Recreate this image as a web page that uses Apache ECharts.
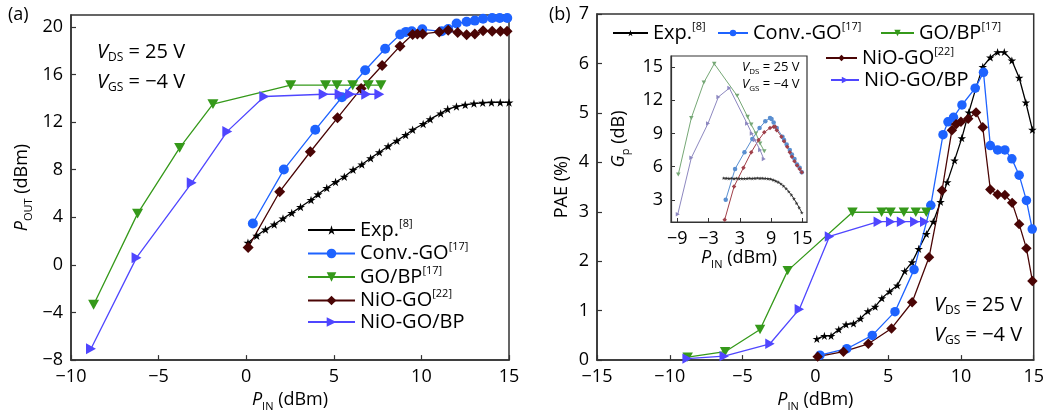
<!DOCTYPE html>
<html>
<head>
<meta charset="utf-8">
<script src="https://cdn.jsdelivr.net/npm/echarts@6/dist/echarts.min.js"></script>
<style>
  html, body { margin: 0; padding: 0; background: #fff; }
  #chart { width: 1047px; height: 417px; }
</style>
</head>
<body>
<div id="chart"></div>
<script>
// (a) Pout vs Pin
const expPinA = [0.1, 0.6, 1.1, 1.6, 2.1, 2.6, 3.1, 3.7, 4.1, 4.6, 5.1, 5.6, 6.1, 6.6, 7.1, 7.6, 8.1, 8.6, 9.1, 9.5, 10.1, 10.5, 11.1, 11.5, 12.0, 12.5, 13.0, 13.5, 14.0, 14.5, 15.0];
const expPoutA = [1.86, 2.45, 2.98, 3.4, 3.9, 4.37, 4.87, 5.46, 5.93, 6.46, 6.96, 7.41, 7.99, 8.44, 8.97, 9.47, 9.97, 10.44, 10.92, 11.36, 11.84, 12.25, 12.73, 13.09, 13.31, 13.45, 13.56, 13.62, 13.65, 13.65, 13.65];
const convPinA = [0.38, 2.15, 3.94, 5.46, 6.79, 7.93, 8.79, 9.12, 9.45, 10.05, 11.16, 11.53, 12.01, 12.58, 13.05, 13.52, 14.04, 14.47, 14.9];
const convPoutA = [3.48, 8.01, 11.35, 14.09, 16.36, 18.16, 19.36, 19.58, 19.63, 19.8, 19.63, 19.83, 20.28, 20.44, 20.53, 20.69, 20.75, 20.75, 20.75];
const goPinA = [-8.71, -6.2, -3.8, -1.9, 2.54, 4.53, 5.18, 6.08, 6.97, 7.69];
const goPoutA = [-3.35, 4.31, 9.83, 13.51, 15.1, 15.1, 15.1, 15.1, 15.1, 15.1];
const nioPinA = [0.11, 1.91, 3.66, 5.21, 6.56, 7.76, 8.78, 9.5, 9.77, 10.07, 11.02, 11.53, 12.07, 12.58, 13.05, 13.52, 14.04, 14.51, 14.89];
const nioPoutA = [1.47, 6.15, 9.51, 12.36, 14.82, 16.76, 18.38, 19.36, 19.41, 19.41, 19.58, 19.72, 19.52, 19.33, 19.41, 19.67, 19.63, 19.63, 19.63];
const bpPinA = [-8.86, -6.26, -3.11, -1.08, 1.03, 4.42, 5.33, 5.94, 6.85, 7.6];
const bpPoutA = [-7.05, 0.61, 6.9, 11.22, 14.15, 14.34, 14.34, 14.34, 14.34, 14.34];

// (b) PAE vs Pin
const expPinB = [0.1, 0.62, 1.08, 1.61, 2.11, 2.62, 3.1, 3.61, 4.11, 4.57, 5.1, 5.63, 6.14, 6.64, 7.1, 7.63, 8.1, 8.6, 9.06, 9.56, 10.06, 10.54, 11.04, 11.5, 12.02, 12.52, 12.98, 13.5, 14.0, 14.46, 14.91];
const expPaeB = [0.43, 0.49, 0.49, 0.62, 0.72, 0.74, 0.84, 0.99, 1.08, 1.25, 1.39, 1.51, 1.8, 1.98, 2.25, 2.55, 2.8, 3.2, 3.6, 4.04, 4.49, 5.01, 5.51, 5.93, 6.12, 6.23, 6.23, 6.06, 5.71, 5.21, 4.66];
const convPinB = [0.32, 2.16, 3.91, 5.47, 6.78, 7.93, 8.77, 9.11, 9.49, 10.07, 10.98, 11.55, 12.02, 12.52, 13.02, 13.5, 14.0, 14.5, 14.9];
const convPaeB = [0.1, 0.23, 0.5, 0.98, 1.83, 3.13, 4.56, 4.82, 4.91, 5.16, 5.5, 5.82, 4.34, 4.25, 4.25, 4.07, 3.74, 3.23, 2.65];
const goPinB = [-8.77, -6.2, -3.8, -1.9, 2.55, 4.55, 5.17, 6.08, 6.9, 7.62];
const goPaeB = [0.06, 0.17, 0.62, 1.81, 2.99, 2.99, 2.99, 2.99, 2.99, 2.99];
const nioPinB = [0.16, 1.93, 3.64, 5.23, 6.65, 7.81, 8.7, 9.38, 9.67, 10.0, 10.5, 11.04, 11.5, 12.02, 12.52, 13.02, 13.52, 14.0, 14.5, 14.91];
const nioPaeB = [0.07, 0.17, 0.33, 0.64, 1.17, 2.08, 3.43, 4.65, 4.77, 4.82, 4.88, 5.01, 4.71, 3.45, 3.35, 3.34, 3.18, 2.75, 2.26, 1.6];
const bpPinB = [-8.81, -6.26, -3.12, -1.1, 0.97, 4.32, 5.17, 5.92, 6.83, 7.51];
const bpPaeB = [0.03, 0.08, 0.33, 1.03, 2.5, 2.8, 2.8, 2.8, 2.8, 2.8];

// inset Gp vs Pin
const gpExpPin = [-0.1, 0.4, 0.9, 1.4, 1.9, 2.4, 2.9, 3.4, 3.9, 4.4, 4.9, 5.4, 5.9, 6.4, 6.9, 7.4, 7.9, 8.4, 8.9, 9.4, 9.9, 10.4, 10.9, 11.4, 11.9, 12.4, 12.9, 13.4, 13.9, 14.4, 14.9];
const gpExp = [4.97, 4.95, 4.93, 4.95, 4.92, 4.95, 4.92, 4.93, 4.92, 4.94, 4.95, 4.93, 4.95, 4.97, 4.95, 4.95, 4.94, 4.92, 4.88, 4.8, 4.7, 4.6, 4.45, 4.25, 4.02, 3.75, 3.45, 3.1, 2.7, 2.3, 1.85];
const gpConvPin = [0.3, 2.1, 3.9, 5.4, 6.8, 7.9, 8.8, 9.1, 9.5, 10.1, 11.2, 11.5, 12.0, 12.6, 13.0, 13.5, 14.0, 14.5, 14.9];
const gpConv = [3.0, 5.8, 7.3, 8.5, 9.5, 10.1, 10.4, 10.3, 10.0, 9.5, 8.7, 8.4, 8.0, 7.5, 7.1, 6.7, 6.2, 5.9, 5.5];
const gpGoPin = [-8.8, -6.3, -3.9, -1.9, 2.5, 4.5, 5.2, 6.1, 6.9, 7.7];
const gpGo = [5.3, 10.4, 13.6, 15.3, 12.4, 10.5, 9.8, 9.0, 8.1, 7.4];
const gpNioPin = [0.1, 1.9, 3.7, 5.2, 6.6, 7.7, 8.8, 9.5, 9.8, 10.1, 11.0, 11.5, 12.1, 12.6, 13.0, 13.5, 14.0, 14.5, 14.9];
const gpNio = [1.2, 4.2, 5.9, 7.3, 8.4, 9.1, 9.5, 9.6, 9.6, 9.3, 8.7, 8.3, 7.8, 7.3, 6.9, 6.5, 6.1, 5.8, 5.5];
const gpBpPin = [-8.9, -6.3, -3.1, -1.1, 1.0, 4.4, 5.3, 5.9, 6.9, 7.6];
const gpBp = [1.7, 6.8, 9.9, 12.3, 13.1, 9.9, 9.0, 8.4, 7.5, 6.7];

const inset_x_ticks = [-9, -3, 3, 9, 15];
const inset_y_ticks = [3, 6, 9, 12, 15];

const FONT = '"Open Sans", "Noto Sans", sans-serif';
const STAR = 'path://M50,0L61,35L98,35L68,57L79,91L50,70L21,91L32,57L2,35L39,35Z';
const TRI_DOWN = 'path://M0,0L10,0L5,9Z';
const TRI_RIGHT = 'path://M0,0L9,5L0,10Z';

const sup = { 'Exp.': '[8]', 'Conv.-GO': '[17]', 'GO/BP': '[17]', 'NiO-GO': '[22]', 'NiO-GO/BP': '' };
const styles = {
    'Exp.': { color: '#000000', symbol: STAR, size: 9 },
    'Conv.-GO': { color: '#1e63ff', symbol: 'circle', size: 10 },
    'GO/BP': { color: '#35991a', symbol: TRI_DOWN, size: 11 },
    'NiO-GO': { color: '#4a0505', symbol: 'diamond', size: 11 },
    'NiO-GO/BP': { color: '#4f46ff', symbol: TRI_RIGHT, size: 11 }
};
const insetColors = {
    'Exp.': '#333333', 'Conv.-GO': '#5a8fd0', 'GO/BP': '#76a876', 'NiO-GO': '#a0404a', 'NiO-GO/BP': '#8d88c0'
};

const zip = (xs, ys) => xs.map((x, i) => [x, ys[i]]);
const minus = v => (v < 0 ? '\u2212' + Math.abs(v) : String(v));

function mainSeries(name, xs, ys, axisIdx, sizeScale) {
    const s = styles[name];
    return {
        name: name, type: 'line', xAxisIndex: axisIdx, yAxisIndex: axisIdx,
        data: zip(xs, ys),
        symbol: s.symbol, symbolSize: s.size * sizeScale, symbolKeepAspect: true,
        itemStyle: { color: s.color },
        lineStyle: { color: s.color, width: 1.3 },
        animation: false
    };
}
function insetSeries(name, xs, ys) {
    const s = styles[name];
    return {
        name: name + ' Gp', type: 'line', xAxisIndex: 2, yAxisIndex: 2,
        data: zip(xs, ys),
        symbol: s.symbol, symbolSize: name === 'Exp.' ? 4 : 4.5, symbolKeepAspect: true,
        itemStyle: { color: insetColors[name] },
        lineStyle: { color: insetColors[name], width: 1 },
        z: 5, animation: false
    };
}

const richName = {
    i: { fontFamily: FONT, fontSize: 18, fontStyle: 'italic', color: '#000', lineHeight: 24 },
    s: { fontFamily: FONT, fontSize: 11, color: '#000', lineHeight: 12, verticalAlign: 'bottom' },
    n: { fontFamily: FONT, fontSize: 18, color: '#000', lineHeight: 24 }
};
const legendRich = {
    n: { fontFamily: FONT, fontSize: 20, color: '#000', lineHeight: 24 },
    s: { fontFamily: FONT, fontSize: 11, color: '#000', lineHeight: 13, verticalAlign: 'top' }
};
const legendFmt = name => '{n|' + name + '}' + (sup[name] ? '{s|' + sup[name] + '}' : '');

function legendItem(name, left, top, width, h) {
    return {
        data: [name], left: left, top: top, orient: 'horizontal', padding: 0,
        itemWidth: width, itemHeight: h, itemGap: 0,
        formatter: legendFmt, textStyle: { rich: legendRich }, selectedMode: false
    };
}

function axisCommon(min, max, interval) {
    return {
        type: 'value', min: min, max: max, interval: interval,
        axisLine: { show: true, onZero: false, lineStyle: { color: '#333', width: 1.5 } },
        axisTick: { show: true, inside: true, length: 5, lineStyle: { color: '#333', width: 1.2 } },
        axisLabel: { fontFamily: FONT, fontSize: 18, color: '#000', formatter: minus, margin: 8 },
        splitLine: { show: false }
    };
}

const vText = (x, y, sub, rest, size) => ({
    type: 'text', x: x, y: y,
    style: {
        text: '{v|V}{s|' + sub + '}{n|' + rest + '}',
        align: 'left', verticalAlign: 'middle',
        rich: {
            v: { fontFamily: FONT, fontSize: size, fontStyle: 'italic', fill: '#000', lineHeight: size + 4 },
            s: { fontFamily: FONT, fontSize: Math.round(size * 0.6), fill: '#000', lineHeight: Math.round(size * 0.6), verticalAlign: 'bottom' },
            n: { fontFamily: FONT, fontSize: size, fill: '#000', lineHeight: size + 4 }
        }
    }
});

const chart = echarts.init(document.getElementById('chart'), null, { renderer: 'canvas' });

const option = {
    backgroundColor: '#fff',
    animation: false,
    grid: [
        { left: 71, top: 15, width: 438, height: 347, show: true, borderColor: '#333', borderWidth: 1.5, backgroundColor: 'transparent' },
        { left: 597, top: 14, width: 439, height: 348, show: true, borderColor: '#333', borderWidth: 1.5, backgroundColor: 'transparent' },
        { left: 671, top: 56, width: 136, height: 166, show: true, borderColor: '#333', borderWidth: 1.2, backgroundColor: '#fff', z: 4 }
    ],
    xAxis: [
        Object.assign(axisCommon(-10, 15, 5), {
            gridIndex: 0, name: '{i|P}{s|IN}{n| (dBm)}', nameLocation: 'middle', nameGap: 25,
            nameTextStyle: { rich: richName }
        }),
        Object.assign(axisCommon(-15, 15, 5), {
            gridIndex: 1, name: '{i|P}{s|IN}{n| (dBm)}', nameLocation: 'middle', nameGap: 25,
            nameTextStyle: { rich: richName }
        }),
        Object.assign(axisCommon(-10.2, 15.9, null), {
            gridIndex: 2, interval: undefined, z: 5,
            axisLine: { show: true, onZero: false, lineStyle: { color: '#333', width: 1.2 } },
            axisTick: { show: true, inside: true, length: 4, customValues: inset_x_ticks, lineStyle: { color: '#333' } },
            axisLabel: { fontFamily: FONT, fontSize: 18, color: '#000', formatter: minus, margin: 8, customValues: inset_x_ticks },
            name: '{i|P}{s|IN}{n| (dBm)}', nameLocation: 'middle', nameGap: 24,
            nameTextStyle: { rich: richName }
        })
    ],
    yAxis: [
        Object.assign(axisCommon(-8, 21, 4), {
            gridIndex: 0, name: '{i|P}{s|OUT}{n| (dBm)}', nameLocation: 'middle', nameGap: 37,
            nameTextStyle: { rich: richName }
        }),
        Object.assign(axisCommon(0, 7, 1), {
            gridIndex: 1, name: 'PAE (%)', nameLocation: 'middle', nameGap: 23,
            nameTextStyle: { fontFamily: FONT, fontSize: 18, color: '#000', lineHeight: 24 }
        }),
        Object.assign(axisCommon(1, 16, null), {
            gridIndex: 2, interval: undefined, z: 5,
            axisLine: { show: true, onZero: false, lineStyle: { color: '#333', width: 1.2 } },
            axisTick: { show: true, inside: true, length: 4, customValues: inset_y_ticks, lineStyle: { color: '#333' } },
            axisLabel: { fontFamily: FONT, fontSize: 18, color: '#000', margin: 8, customValues: inset_y_ticks },
            name: '{i|G}{s|p}{n| (dB)}', nameLocation: 'middle', nameGap: 40,
            nameTextStyle: { rich: richName }
        })
    ],
    legend: [
        {
            data: ['Exp.', 'Conv.-GO', 'GO/BP', 'NiO-GO', 'NiO-GO/BP'],
            left: 307, top: 218, orient: 'vertical', padding: 0,
            itemWidth: 47, itemHeight: 12, itemGap: 1.5,
            formatter: legendFmt, textStyle: { rich: legendRich }, selectedMode: false
        },
        legendItem('Exp.', 612, 21, 35, 8),
        legendItem('Conv.-GO', 717, 21, 30, 8),
        legendItem('GO/BP', 880, 21, 33, 8),
        legendItem('NiO-GO', 825, 46, 31, 8),
        legendItem('NiO-GO/BP', 830, 70, 28, 8)
    ],
    graphic: [
        { type: 'text', x: 8, y: 15, style: { text: '(a)', fontFamily: FONT, fontSize: 18, fill: '#000', verticalAlign: 'middle' } },
        { type: 'text', x: 549, y: 15, style: { text: '(b)', fontFamily: FONT, fontSize: 18, fill: '#000', verticalAlign: 'middle' } },
        vText(97, 52, 'DS', ' = 25 V', 20),
        vText(97, 82, 'GS', ' = \u22124 V', 20),
        vText(934, 305, 'DS', ' = 25 V', 20),
        vText(934, 335, 'GS', ' = \u22124 V', 20),
        Object.assign(vText(742, 67, 'DS', ' = 25 V', 13), { z: 10 }),
        Object.assign(vText(742, 84, 'GS', ' = \u22124 V', 13), { z: 10 })
    ],
    series: [
        mainSeries('Exp.', expPinA, expPoutA, 0, 1),
        mainSeries('Conv.-GO', convPinA, convPoutA, 0, 1),
        mainSeries('GO/BP', goPinA, goPoutA, 0, 1),
        mainSeries('NiO-GO', nioPinA, nioPoutA, 0, 1),
        mainSeries('NiO-GO/BP', bpPinA, bpPoutA, 0, 1),
        mainSeries('Exp.', expPinB, expPaeB, 1, 0.95),
        mainSeries('Conv.-GO', convPinB, convPaeB, 1, 0.95),
        mainSeries('GO/BP', goPinB, goPaeB, 1, 0.95),
        mainSeries('NiO-GO', nioPinB, nioPaeB, 1, 0.95),
        mainSeries('NiO-GO/BP', bpPinB, bpPaeB, 1, 0.95),
        insetSeries('Exp.', gpExpPin, gpExp),
        insetSeries('Conv.-GO', gpConvPin, gpConv),
        insetSeries('GO/BP', gpGoPin, gpGo),
        insetSeries('NiO-GO', gpNioPin, gpNio),
        insetSeries('NiO-GO/BP', gpBpPin, gpBp)
    ]
};

chart.setOption(option);
</script>
</body>
</html>
